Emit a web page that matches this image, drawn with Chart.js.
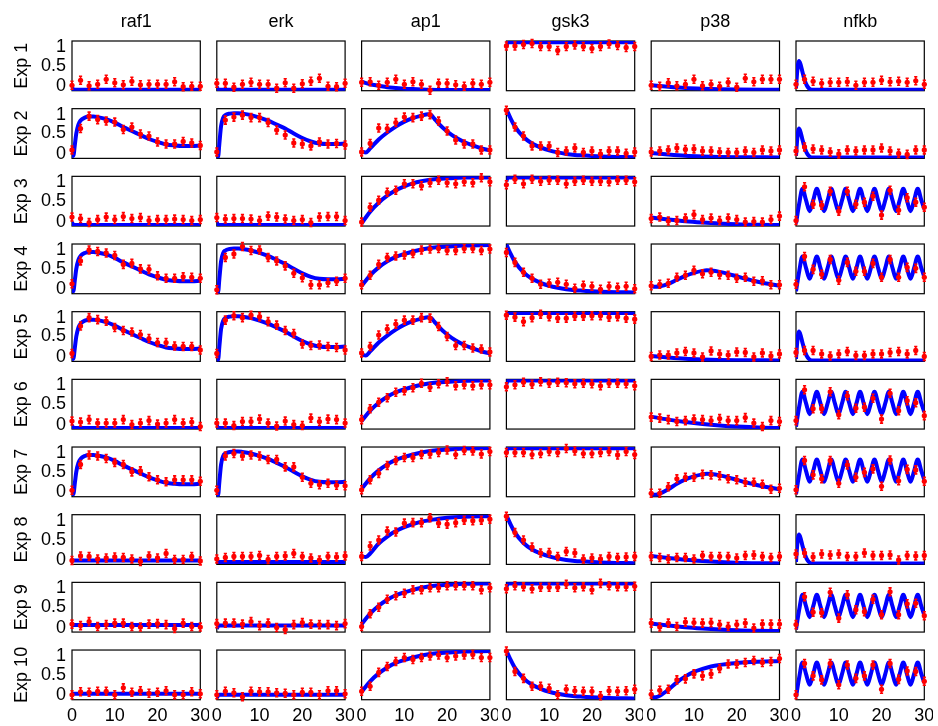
<!DOCTYPE html>
<html>
<head>
<meta charset="utf-8">
<script src="https://cdn.jsdelivr.net/npm/chart.js@4.4.1/dist/chart.umd.min.js"></script>
<style>
    body { margin: 0; background: #fff; }
    #figure { position: relative; width: 938px; height: 726px; background: #fff; overflow: hidden; }
    #figure canvas { position: absolute; }
</style>
</head>
<body>
<div id="figure"></div>
<script>
// --- Datos ---
const proteins = ['raf1', 'erk', 'ap1', 'gsk3', 'p38', 'nfkb'];
const experiments = ['Exp 1', 'Exp 2', 'Exp 3', 'Exp 4', 'Exp 5', 'Exp 6', 'Exp 7', 'Exp 8', 'Exp 9', 'Exp 10'];
const obsTimes = [0, 2, 4, 6, 8, 10, 12, 14, 16, 18, 20, 22, 24, 26, 28, 30];
const xTicks = [0, 10, 20, 30];
const xTickLabels = ['0', '10', '20', '30'];
const yTicks = [0, 0.5, 1];
const yTickLabels = ['0', '0.5', '1'];
const obsError = 0.08;

// Curvas del modelo: pares [tiempo, valor]
const flatZero = [[0, 0.08], [0.3, 0.02], [30, 0.02]];
const raf1Pulse = [[0, 0.1], [0.3, 0.05], [0.7, 0.3], [1, 0.5], [1.5, 0.68], [2, 0.76], [3, 0.82], [4, 0.84], [5, 0.84], [6, 0.83], [8, 0.79], [10, 0.72], [12, 0.63], [14, 0.55], [16, 0.47], [18, 0.39], [20, 0.33], [22, 0.28], [24, 0.26], [26, 0.25], [28, 0.25], [30, 0.26]];
const erkPulse = [[0, 0.05], [0.3, 0.03], [0.6, 0.3], [1, 0.65], [1.5, 0.82], [2, 0.87], [3, 0.9], [4, 0.91], [5, 0.91], [6, 0.9], [8, 0.87], [10, 0.82], [12, 0.76], [14, 0.68], [16, 0.6], [18, 0.5], [20, 0.41], [22, 0.34], [24, 0.3], [26, 0.29], [28, 0.29], [30, 0.3]];
const raf1Base8 = [[0, 0.08], [30, 0.08]];
const raf1Base14 = [[0, 0.14], [30, 0.14]];
const raf1Base12 = [[0, 0.12], [30, 0.12]];
const erkBase5 = [[0, 0.05], [30, 0.05]];
const erkBase13 = [[0, 0.07], [0.5, 0.13], [30, 0.13]];
const erkBase10 = [[0, 0.04], [0.5, 0.1], [30, 0.1]];
const ap1Decay = [[0, 0.18], [2, 0.13], [4, 0.1], [6, 0.07], [8, 0.055], [10, 0.04], [13, 0.03], [16, 0.02], [20, 0.015], [30, 0.012]];
const ap1Peak = [[0, 0.14], [1, 0.12], [2, 0.2], [4, 0.38], [6, 0.52], [8, 0.64], [10, 0.74], [12, 0.81], [14, 0.86], [15.5, 0.89], [16.3, 0.87], [17, 0.8], [18, 0.7], [20, 0.54], [22, 0.42], [24, 0.33], [26, 0.26], [28, 0.2], [30, 0.16]];
const ap1RiseLow = [[0, 0.05], [2, 0.29], [4, 0.47], [6, 0.61], [8, 0.72], [10, 0.8], [12, 0.86], [14, 0.9], [16, 0.93], [18, 0.95], [20, 0.96], [24, 0.975], [30, 0.978]];
const ap1RiseHigh = [[0, 0.16], [2, 0.37], [4, 0.53], [6, 0.65], [8, 0.74], [10, 0.8], [12, 0.85], [14, 0.89], [16, 0.92], [18, 0.94], [20, 0.95], [24, 0.97], [30, 0.978]];
const ap1Sigmoid = [[0, 0.16], [1, 0.15], [2, 0.22], [4, 0.42], [6, 0.56], [8, 0.67], [10, 0.75], [12, 0.81], [14, 0.86], [16, 0.89], [18, 0.92], [20, 0.94], [24, 0.96], [30, 0.97]];
const gsk3Flat = [[0, 0.9], [0.3, 0.975], [30, 0.975]];
const gsk3Decay = [[0, 0.99], [1, 0.8], [2, 0.64], [4, 0.43], [6, 0.3], [8, 0.22], [10, 0.16], [12, 0.12], [14, 0.09], [16, 0.07], [18, 0.06], [20, 0.05], [24, 0.035], [30, 0.025]];
const p38DecayLow = [[0, 0.11], [4, 0.08], [8, 0.055], [12, 0.04], [16, 0.03], [20, 0.025], [30, 0.02]];
const p38DecayMid = [[0, 0.17], [4, 0.13], [8, 0.095], [12, 0.07], [16, 0.05], [20, 0.035], [25, 0.025], [30, 0.02]];
const p38DecayHigh = [[0, 0.25], [4, 0.19], [8, 0.14], [12, 0.1], [16, 0.07], [20, 0.05], [25, 0.03], [30, 0.02]];
const p38BumpA = [[0, 0.15], [1, 0.14], [2, 0.15], [4, 0.2], [6, 0.28], [8, 0.36], [10, 0.42], [12, 0.46], [13, 0.47], [14, 0.465], [16, 0.44], [18, 0.4], [20, 0.35], [22, 0.3], [24, 0.26], [26, 0.22], [28, 0.19], [30, 0.16]];
const p38BumpB = [[0, 0.05], [1, 0.04], [2, 0.06], [4, 0.15], [6, 0.26], [8, 0.35], [10, 0.41], [12, 0.45], [13, 0.46], [14, 0.455], [16, 0.43], [18, 0.39], [20, 0.34], [22, 0.29], [24, 0.25], [26, 0.21], [28, 0.18], [30, 0.15]];
const p38Rise = [[0, 0.06], [1, 0.05], [2, 0.08], [4, 0.2], [6, 0.35], [8, 0.47], [10, 0.56], [12, 0.62], [14, 0.67], [16, 0.7], [18, 0.72], [20, 0.74], [24, 0.76], [30, 0.78]];
const nfkbSpike = [[0, 0.05], [0.3, 0.4], [0.7, 0.6], [1.1, 0.52], [1.5, 0.38], [2, 0.22], [2.5, 0.11], [3, 0.05], [3.7, 0.02], [30, 0.02]];
const nfkbOsc = [[0, 0.05], [0.75, 0.45], [1.5, 0.75], [2.34, 0.52], [3.19, 0.3], [4.03, 0.52], [4.87, 0.75], [5.71, 0.52], [6.56, 0.3], [7.4, 0.52], [8.24, 0.75], [9.08, 0.52], [9.93, 0.3], [10.77, 0.52], [11.61, 0.75], [12.45, 0.52], [13.3, 0.3], [14.14, 0.52], [14.98, 0.75], [15.82, 0.52], [16.67, 0.3], [17.51, 0.52], [18.35, 0.75], [19.19, 0.52], [20.04, 0.3], [20.88, 0.52], [21.72, 0.75], [22.56, 0.52], [23.41, 0.3], [24.25, 0.52], [25.09, 0.75], [25.93, 0.52], [26.78, 0.3], [27.62, 0.52], [28.46, 0.75], [29.3, 0.52], [30, 0.34]];

// Curva de cada experimento (fila) por proteína
const raf1Fits = [flatZero, raf1Pulse, flatZero, raf1Pulse, raf1Pulse, flatZero, raf1Pulse, raf1Base8, raf1Base14, raf1Base12];
const erkFits = [flatZero, erkPulse, flatZero, erkPulse, erkPulse, flatZero, erkPulse, erkBase5, erkBase13, erkBase10];
const ap1Fits = [ap1Decay, ap1Peak, ap1RiseLow, ap1RiseHigh, ap1Peak, ap1RiseHigh, ap1RiseHigh, ap1Sigmoid, ap1RiseHigh, ap1RiseHigh];
const gsk3Fits = [gsk3Flat, gsk3Decay, gsk3Flat, gsk3Decay, gsk3Flat, gsk3Flat, gsk3Flat, gsk3Decay, gsk3Flat, gsk3Decay];
const p38Fits = [p38DecayLow, p38DecayLow, p38DecayMid, p38BumpA, p38DecayLow, p38DecayHigh, p38BumpB, p38DecayMid, p38DecayMid, p38Rise];
const nfkbFits = [nfkbSpike, nfkbSpike, nfkbOsc, nfkbOsc, nfkbSpike, nfkbOsc, nfkbOsc, nfkbSpike, nfkbOsc, nfkbOsc];

// Mediciones (puntos rojos), una fila por experimento
const raf1Obs = [
    [0.11, 0.21, 0.10, 0.13, 0.23, 0.16, 0.12, 0.19, 0.12, 0.13, 0.13, 0.13, 0.18, 0.08, 0.09, 0.09],
    [0.17, 0.60, 0.85, 0.78, 0.75, 0.73, 0.58, 0.63, 0.49, 0.45, 0.33, 0.29, 0.29, 0.34, 0.31, 0.26],
    [0.18, 0.15, 0.07, 0.13, 0.18, 0.13, 0.19, 0.15, 0.17, 0.11, 0.13, 0.13, 0.14, 0.13, 0.11, 0.13],
    [0.20, 0.66, 0.88, 0.85, 0.82, 0.77, 0.59, 0.61, 0.50, 0.49, 0.36, 0.31, 0.31, 0.34, 0.33, 0.31],
    [0.16, 0.71, 0.88, 0.84, 0.81, 0.68, 0.62, 0.59, 0.54, 0.46, 0.38, 0.38, 0.31, 0.30, 0.30, 0.23],
    [0.16, 0.14, 0.19, 0.12, 0.12, 0.12, 0.19, 0.09, 0.12, 0.17, 0.10, 0.12, 0.19, 0.12, 0.14, 0.05],
    [0.13, 0.65, 0.84, 0.82, 0.77, 0.69, 0.65, 0.50, 0.52, 0.40, 0.34, 0.30, 0.34, 0.34, 0.34, 0.31],
    [0.08, 0.17, 0.16, 0.11, 0.13, 0.15, 0.14, 0.11, 0.06, 0.17, 0.13, 0.22, 0.10, 0.10, 0.16, 0.07],
    [0.16, 0.13, 0.21, 0.11, 0.15, 0.18, 0.18, 0.11, 0.10, 0.16, 0.17, 0.15, 0.07, 0.18, 0.11, 0.10],
    [0.10, 0.16, 0.15, 0.17, 0.17, 0.10, 0.24, 0.15, 0.18, 0.13, 0.15, 0.18, 0.10, 0.10, 0.16, 0.12]
];
const erkObs = [
    [0.15, 0.15, 0.07, 0.13, 0.17, 0.13, 0.13, 0.05, 0.16, 0.05, 0.14, 0.19, 0.25, 0.09, 0.08, 0.15],
    [0.13, 0.77, 0.83, 0.87, 0.82, 0.82, 0.72, 0.57, 0.47, 0.31, 0.29, 0.25, 0.33, 0.29, 0.30, 0.27],
    [0.17, 0.14, 0.15, 0.15, 0.14, 0.11, 0.20, 0.18, 0.14, 0.11, 0.13, 0.07, 0.18, 0.19, 0.19, 0.11],
    [0.08, 0.73, 0.80, 0.95, 0.87, 0.88, 0.73, 0.66, 0.56, 0.41, 0.32, 0.18, 0.18, 0.22, 0.25, 0.31],
    [0.16, 0.83, 0.92, 0.88, 0.93, 0.90, 0.80, 0.73, 0.62, 0.56, 0.35, 0.32, 0.33, 0.30, 0.28, 0.23],
    [0.12, 0.12, 0.07, 0.15, 0.15, 0.20, 0.12, 0.06, 0.16, 0.09, 0.07, 0.22, 0.15, 0.20, 0.19, 0.12],
    [0.13, 0.82, 0.87, 0.82, 0.84, 0.82, 0.75, 0.75, 0.60, 0.60, 0.39, 0.27, 0.24, 0.27, 0.23, 0.22],
    [0.11, 0.14, 0.16, 0.16, 0.16, 0.18, 0.10, 0.16, 0.17, 0.22, 0.16, 0.13, 0.09, 0.16, 0.15, 0.17],
    [0.17, 0.18, 0.18, 0.16, 0.21, 0.13, 0.18, 0.09, 0.05, 0.15, 0.19, 0.16, 0.15, 0.15, 0.13, 0.17],
    [0.10, 0.17, 0.14, 0.06, 0.17, 0.16, 0.16, 0.14, 0.13, 0.10, 0.15, 0.15, 0.10, 0.18, 0.18, 0.12]
];
const ap1Obs = [
    [0.17, 0.18, 0.11, 0.17, 0.23, 0.13, 0.18, 0.13, 0.01, 0.15, 0.15, 0.12, 0.09, 0.15, 0.13, 0.17],
    [0.13, 0.30, 0.61, 0.60, 0.72, 0.83, 0.82, 0.85, 0.88, 0.75, 0.55, 0.37, 0.29, 0.29, 0.17, 0.17],
    [0.08, 0.38, 0.52, 0.68, 0.72, 0.85, 0.85, 0.81, 0.87, 0.92, 0.87, 0.85, 0.89, 0.87, 0.97, 0.89],
    [0.18, 0.37, 0.59, 0.73, 0.76, 0.78, 0.81, 0.88, 0.90, 0.91, 0.87, 0.87, 0.91, 0.91, 0.87, 0.90],
    [0.17, 0.30, 0.53, 0.65, 0.75, 0.83, 0.83, 0.88, 0.87, 0.70, 0.50, 0.32, 0.32, 0.27, 0.25, 0.19],
    [0.19, 0.41, 0.54, 0.63, 0.74, 0.77, 0.83, 0.92, 0.84, 0.91, 0.95, 0.87, 0.89, 0.87, 0.89, 0.89],
    [0.14, 0.34, 0.47, 0.63, 0.73, 0.79, 0.79, 0.85, 0.86, 0.89, 0.94, 0.85, 0.93, 0.92, 0.86, 0.91],
    [0.16, 0.37, 0.49, 0.67, 0.65, 0.83, 0.84, 0.84, 0.94, 0.83, 0.81, 0.84, 0.89, 0.88, 0.89, 0.91],
    [0.11, 0.37, 0.50, 0.66, 0.73, 0.78, 0.85, 0.85, 0.89, 0.89, 0.93, 0.93, 0.93, 0.93, 0.85, 0.89],
    [0.17, 0.27, 0.55, 0.67, 0.77, 0.85, 0.81, 0.85, 0.88, 0.90, 0.85, 0.88, 0.90, 0.91, 0.85, 0.85]
];
const gsk3Obs = [
    [0.90, 0.90, 0.93, 0.95, 0.89, 0.89, 0.81, 0.89, 0.92, 0.89, 0.85, 0.89, 0.94, 0.91, 0.87, 0.89],
    [0.97, 0.63, 0.45, 0.25, 0.25, 0.25, 0.12, 0.15, 0.21, 0.12, 0.15, 0.09, 0.15, 0.15, 0.10, 0.13],
    [0.83, 0.94, 0.85, 0.94, 0.90, 0.92, 0.92, 0.85, 0.90, 0.92, 0.90, 0.90, 0.89, 0.92, 0.92, 0.89],
    [0.83, 0.63, 0.43, 0.31, 0.19, 0.21, 0.23, 0.19, 0.11, 0.17, 0.15, 0.09, 0.15, 0.13, 0.15, 0.10],
    [0.93, 0.89, 0.80, 0.88, 0.95, 0.90, 0.87, 0.87, 0.91, 0.91, 0.92, 0.92, 0.89, 0.90, 0.87, 0.85],
    [0.85, 0.89, 0.94, 0.90, 0.95, 0.92, 0.94, 0.93, 0.91, 0.92, 0.91, 0.87, 0.92, 0.92, 0.91, 0.87],
    [0.89, 0.89, 0.89, 0.85, 0.87, 0.91, 0.89, 0.97, 0.92, 0.87, 0.87, 0.89, 0.91, 0.84, 0.91, 0.85],
    [0.97, 0.64, 0.49, 0.35, 0.23, 0.24, 0.16, 0.26, 0.23, 0.11, 0.13, 0.11, 0.16, 0.14, 0.15, 0.16],
    [0.87, 0.93, 0.91, 0.87, 0.90, 0.90, 0.90, 0.96, 0.89, 0.91, 0.85, 0.98, 0.93, 0.91, 0.91, 0.92],
    [0.98, 0.57, 0.43, 0.27, 0.27, 0.23, 0.10, 0.21, 0.18, 0.17, 0.17, 0.08, 0.18, 0.17, 0.18, 0.21]
];
const p38Obs = [
    [0.11, 0.09, 0.16, 0.10, 0.13, 0.23, 0.10, 0.13, 0.09, 0.17, 0.07, 0.25, 0.18, 0.23, 0.23, 0.23],
    [0.13, 0.15, 0.17, 0.21, 0.18, 0.19, 0.15, 0.15, 0.13, 0.12, 0.12, 0.15, 0.12, 0.17, 0.15, 0.17],
    [0.15, 0.18, 0.10, 0.11, 0.16, 0.23, 0.13, 0.16, 0.11, 0.16, 0.13, 0.08, 0.09, 0.08, 0.13, 0.20],
    [0.16, 0.19, 0.21, 0.33, 0.37, 0.47, 0.40, 0.43, 0.38, 0.37, 0.31, 0.33, 0.25, 0.26, 0.18, 0.18],
    [0.10, 0.13, 0.13, 0.17, 0.20, 0.17, 0.09, 0.21, 0.15, 0.13, 0.19, 0.18, 0.09, 0.17, 0.11, 0.15],
    [0.24, 0.22, 0.19, 0.15, 0.17, 0.20, 0.19, 0.17, 0.21, 0.17, 0.17, 0.23, 0.12, 0.05, 0.17, 0.15],
    [0.07, 0.07, 0.20, 0.36, 0.39, 0.39, 0.45, 0.44, 0.42, 0.36, 0.34, 0.29, 0.29, 0.25, 0.15, 0.17],
    [0.16, 0.14, 0.11, 0.14, 0.14, 0.11, 0.18, 0.16, 0.16, 0.16, 0.13, 0.18, 0.19, 0.16, 0.14, 0.16],
    [0.18, 0.10, 0.18, 0.11, 0.20, 0.19, 0.18, 0.19, 0.15, 0.11, 0.15, 0.18, 0.08, 0.16, 0.16, 0.16],
    [0.11, 0.19, 0.21, 0.40, 0.42, 0.52, 0.48, 0.52, 0.63, 0.72, 0.72, 0.75, 0.79, 0.75, 0.77, 0.83]
];
const nfkbObs = [
    [0.13, 0.23, 0.19, 0.15, 0.17, 0.17, 0.18, 0.11, 0.17, 0.17, 0.21, 0.18, 0.19, 0.17, 0.20, 0.13],
    [0.15, 0.23, 0.19, 0.17, 0.13, 0.09, 0.17, 0.15, 0.17, 0.17, 0.21, 0.15, 0.10, 0.08, 0.17, 0.17],
    [0.11, 0.79, 0.44, 0.42, 0.70, 0.30, 0.70, 0.44, 0.48, 0.60, 0.22, 0.72, 0.32, 0.57, 0.48, 0.38],
    [0.19, 0.75, 0.49, 0.39, 0.69, 0.27, 0.63, 0.45, 0.45, 0.61, 0.33, 0.69, 0.33, 0.53, 0.51, 0.33],
    [0.18, 0.22, 0.22, 0.15, 0.11, 0.15, 0.20, 0.12, 0.12, 0.15, 0.15, 0.18, 0.20, 0.15, 0.22, 0.10],
    [0.17, 0.79, 0.41, 0.41, 0.75, 0.29, 0.67, 0.42, 0.44, 0.62, 0.20, 0.72, 0.37, 0.57, 0.53, 0.27],
    [0.14, 0.73, 0.44, 0.36, 0.73, 0.27, 0.64, 0.39, 0.49, 0.56, 0.21, 0.74, 0.32, 0.55, 0.54, 0.31],
    [0.21, 0.23, 0.15, 0.21, 0.19, 0.21, 0.16, 0.16, 0.23, 0.18, 0.18, 0.19, 0.09, 0.18, 0.17, 0.18],
    [0.15, 0.71, 0.40, 0.39, 0.80, 0.28, 0.75, 0.45, 0.41, 0.66, 0.35, 0.81, 0.35, 0.57, 0.58, 0.33],
    [0.10, 0.73, 0.48, 0.40, 0.73, 0.30, 0.70, 0.43, 0.48, 0.70, 0.21, 0.73, 0.41, 0.58, 0.57, 0.37]
];

const fitsByProtein = [raf1Fits, erkFits, ap1Fits, gsk3Fits, p38Fits, nfkbFits];
const obsByProtein = [raf1Obs, erkObs, ap1Obs, gsk3Obs, p38Obs, nfkbObs];

// --- Geometría de la rejilla (px) ---
const BOX_W = 128.3;
const BOX_H = 49.7;
const colLeft = c => 72 + 144.8 * c;
const rowTop = r => 41 + 67.67 * r;

Chart.defaults.font.family = "'Liberation Sans', Arial, Helvetica, sans-serif";
Chart.defaults.font.size = 18;
Chart.defaults.color = '#000';

// Marco negro de cada panel
const boxFrame = {
    id: 'boxFrame',
    beforeDatasetsDraw(chart) {
        const {ctx, chartArea: a} = chart;
        ctx.save();
        ctx.strokeStyle = '#000';
        ctx.lineWidth = 1.2;
        ctx.strokeRect(a.left, a.top, a.right - a.left, a.bottom - a.top);
        ctx.restore();
    }
};

// Barras de error verticales sobre los puntos medidos
const errorBars = {
    id: 'errorBars',
    afterDatasetsDraw(chart) {
        const {ctx, scales: {x, y}} = chart;
        chart.data.datasets.forEach(ds => {
            if (!ds.errorBar) return;
            ctx.save();
            ctx.strokeStyle = ds.backgroundColor;
            ctx.lineWidth = 1.6;
            ds.data.forEach(p => {
                const px = x.getPixelForValue(p.x);
                const y0 = y.getPixelForValue(p.y - ds.errorBar);
                const y1 = y.getPixelForValue(p.y + ds.errorBar);
                ctx.beginPath();
                ctx.moveTo(px, y0);
                ctx.lineTo(px, y1);
                ctx.moveTo(px - 1.6, y0);
                ctx.lineTo(px + 1.6, y0);
                ctx.moveTo(px - 1.6, y1);
                ctx.lineTo(px + 1.6, y1);
                ctx.stroke();
            });
            ctx.restore();
        });
    }
};

const figure = document.getElementById('figure');

function drawPanel(r, c) {
    const left = colLeft(c);
    const top = rowTop(r);
    const cx = c === 0 ? 0 : Math.floor(left) - 8;
    const cy = r === 0 ? 0 : Math.floor(top) - 8;
    const cw = Math.ceil(left + BOX_W + 8) - cx;
    const ch = r === experiments.length - 1 ? 726 - cy : Math.ceil(top + BOX_H + 8) - cy;
    const padLeft = left - cx;
    const padTop = top - cy;
    const padRight = cw - padLeft - BOX_W;
    const padBottom = ch - padTop - BOX_H;
    const firstRow = r === 0;
    const lastRow = r === experiments.length - 1;
    const firstCol = c === 0;

    const canvas = document.createElement('canvas');
    canvas.width = cw;
    canvas.height = ch;
    canvas.style.left = cx + 'px';
    canvas.style.top = cy + 'px';
    canvas.style.width = cw + 'px';
    canvas.style.height = ch + 'px';
    figure.appendChild(canvas);

    const fit = fitsByProtein[c][r];
    const obs = obsByProtein[c][r];

    new Chart(canvas, {
        type: 'scatter',
        data: {
            datasets: [
                {
                    data: obsTimes.map((t, i) => ({x: t, y: obs[i]})),
                    backgroundColor: '#ff0000',
                    borderWidth: 0,
                    pointRadius: 2.6,
                    errorBar: obsError,
                    clip: false
                },
                {
                    data: fit.map(([t, v]) => ({x: t, y: v})),
                    showLine: true,
                    borderColor: '#0000ff',
                    borderWidth: 4,
                    pointRadius: 0,
                    cubicInterpolationMode: 'monotone'
                }
            ]
        },
        options: {
            responsive: false,
            animation: false,
            devicePixelRatio: 1,
            events: [],
            layout: {
                padding: {
                    left: firstCol ? 0 : padLeft,
                    right: padRight,
                    top: firstRow ? 0 : padTop,
                    bottom: lastRow ? 0 : padBottom
                }
            },
            plugins: {
                legend: {display: false},
                tooltip: {enabled: false}
            },
            scales: {
                x: {
                    type: 'linear',
                    display: lastRow,
                    min: 0,
                    max: 30,
                    grid: {display: false, drawTicks: false},
                    border: {display: false},
                    afterBuildTicks: scale => { scale.ticks = xTicks.map(v => ({value: v})); },
                    ticks: {
                        autoSkip: false,
                        maxRotation: 0,
                        padding: 6,
                        font: {size: 18},
                        callback: (v, i) => xTickLabels[i]
                    },
                    afterFit: scale => {
                        if (lastRow) scale.height = padBottom;
                        scale.paddingLeft = 0;
                        scale.paddingRight = 0;
                    }
                },
                // eje superior sólo para el nombre de la proteína
                xTop: {
                    type: 'linear',
                    position: 'top',
                    display: firstRow,
                    min: 0,
                    max: 30,
                    grid: {display: false, drawTicks: false},
                    border: {display: false},
                    ticks: {display: false},
                    title: {
                        display: true,
                        text: proteins[c],
                        font: {size: 18, lineHeight: 1.2},
                        padding: {top: 11, bottom: 0}
                    },
                    afterFit: scale => {
                        if (firstRow) scale.height = padTop;
                        scale.paddingLeft = 0;
                        scale.paddingRight = 0;
                    }
                },
                y: {
                    type: 'linear',
                    display: firstCol,
                    min: 0,
                    max: 1,
                    grid: {display: false, drawTicks: false},
                    border: {display: false},
                    afterBuildTicks: scale => { scale.ticks = yTicks.map(v => ({value: v})); },
                    ticks: {
                        autoSkip: false,
                        padding: 6,
                        // los extremos se desplazan hacia dentro del eje (línea vacía)
                        font: ctx => ({size: 18, lineHeight: ctx.index === 0 ? 0.5 : 0.68}),
                        callback: (v, i) => i === 0 ? [yTickLabels[i], ''] : i === yTicks.length - 1 ? ['', yTickLabels[i]] : yTickLabels[i]
                    },
                    title: {
                        display: firstCol,
                        text: experiments[r],
                        font: {size: 18},
                        padding: {top: 11, bottom: 0}
                    },
                    afterFit: scale => {
                        if (firstCol) scale.width = padLeft;
                        scale.paddingTop = 0;
                        scale.paddingBottom = 0;
                    }
                }
            }
        },
        plugins: [boxFrame, errorBars]
    });
}

experiments.forEach((exp, r) => {
    proteins.forEach((name, c) => drawPanel(r, c));
});
</script>
</body>
</html>
